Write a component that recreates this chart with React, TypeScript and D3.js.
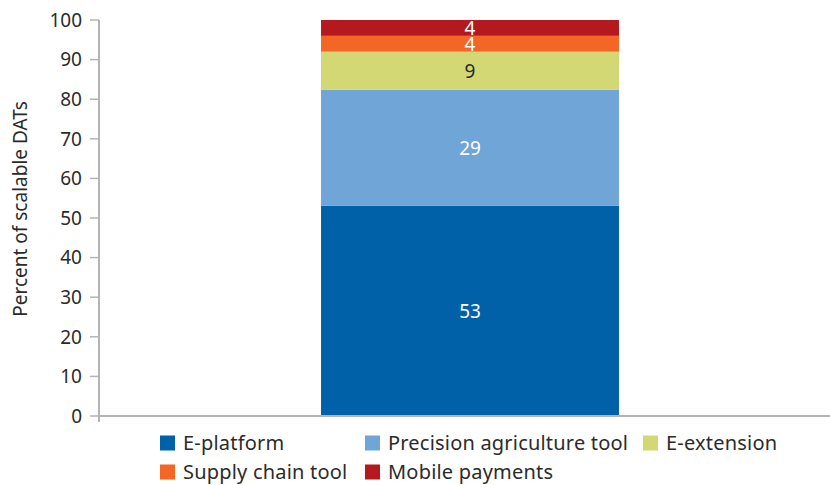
import React from "react";
import * as d3 from "d3";

const categories = ["All"];
const seriesNames = ["E-platform", "Precision agriculture tool", "E-extension", "Supply chain tool", "Mobile payments"];
const seriesValues = [53.1, 29.3, 9.6, 4.0, 4.0];
const seriesLabels = ["53", "29", "9", "4", "4"];
const seriesColors = ["#0061a9", "#6fa5d7", "#d3d774", "#f46625", "#b5191f"];
const labelColors = ["#ffffff", "#ffffff", "#2b2b2b", "#ffffff", "#ffffff"];
const yTicks = [0, 10, 20, 30, 40, 50, 60, 70, 80, 90, 100];

const W = 830;
const H = 485;
const FONT = "'Noto Sans', 'Open Sans', sans-serif";

export default function App() {
  const y = d3.scaleLinear().domain([0, 100]).range([416, 20]);
  const x = d3.scaleBand().domain(categories).range([99, 841]).paddingInner(0.427).paddingOuter(0.427);
  const stackStart: number[] = [];
  let acc = 0;
  seriesValues.forEach((v) => { stackStart.push(acc); acc += v; });

  const legendRows = [
    [{ i: 0, x: 160 }, { i: 1, x: 365 }, { i: 2, x: 643 }],
    [{ i: 3, x: 160 }, { i: 4, x: 365 }],
  ];
  const legendY = [443, 472];

  return (
    <svg width={W} height={H} style={{ position: "absolute", left: 0, top: 0, background: "#fff" }} fontFamily={FONT}>
      {categories.map((c) =>
        seriesValues.map((v, i) => {
          const y0 = y(stackStart[i]);
          const y1 = y(stackStart[i] + v);
          return (
            <g key={c + i}>
              <rect x={x(c)} y={y1} width={x.bandwidth()} height={y0 - y1} fill={seriesColors[i]} />
              <text
                x={(x(c) as number) + x.bandwidth() / 2}
                y={(y0 + y1) / 2}
                dy="0.36em"
                textAnchor="middle"
                fontSize={19}
                fill={labelColors[i]}
              >
                {seriesLabels[i]}
              </text>
            </g>
          );
        })
      )}
      <line x1={99} x2={99} y1={20} y2={422} stroke="#b4b4b4" strokeWidth={2} />
      <line x1={98} x2={W} y1={416} y2={416} stroke="#b4b4b4" strokeWidth={2} />
      {yTicks.map((t) => (
        <g key={t}>
          <line x1={90} x2={99} y1={y(t)} y2={y(t)} stroke="#b4b4b4" strokeWidth={1.5} />
          <text x={82} y={y(t)} dy="0.36em" textAnchor="end" fontSize={19} fill="#2b2b2b">
            {t}
          </text>
        </g>
      ))}
      <text
        transform={`translate(27, 209) rotate(-90)`}
        textAnchor="middle"
        fontSize={19}
        fill="#2b2b2b"
      >
        Percent of scalable DATs
      </text>
      {legendRows.map((row, r) =>
        row.map((item) => (
          <g key={item.i}>
            <rect x={item.x} y={legendY[r] - 7.5} width={15} height={15} fill={seriesColors[item.i]} />
            <text x={item.x + 23} y={legendY[r]} dy="0.34em" fontSize={20} letterSpacing={0.2} fill="#2b2b2b">
              {seriesNames[item.i]}
            </text>
          </g>
        ))
      )}
    </svg>
  );
}
